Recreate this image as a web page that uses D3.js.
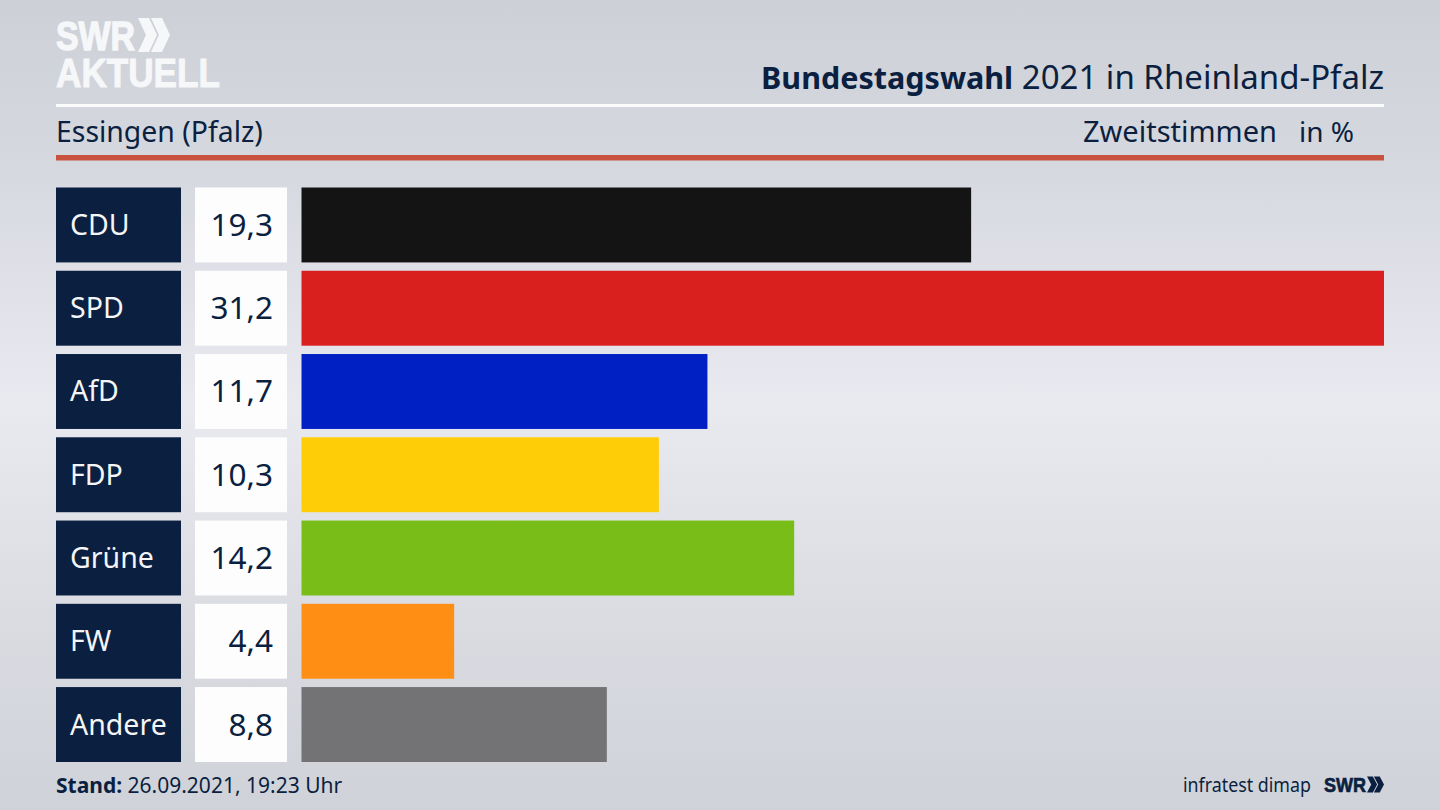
<!DOCTYPE html>
<html>
<head>
<meta charset="utf-8">
<script src="https://cdn.jsdelivr.net/npm/d3@7"></script>
<style>
  html, body { margin: 0; padding: 0; background: #dcdee4; overflow: hidden; }
  text { font-family: "Noto Sans", sans-serif; fill: #0b1f40; }
</style>
</head>
<body>
<svg id="chart" width="1440" height="810"></svg>
<script>
'use strict';
var parties = ['CDU', 'SPD', 'AfD', 'FDP', 'Grüne', 'FW', 'Andere'];
var shares = [19.3, 31.2, 11.7, 10.3, 14.2, 4.4, 8.8];
var barColors = ['#141414', '#d9201e', '#0020c4', '#ffcd08', '#79bd19', '#ff8f14', '#737375'];

var navy = '#0b1f40';
var svg = d3.select('#chart');
var comma = function(v) { return d3.format('.1f')(v).replace('.', ','); };

var x = d3.scaleLinear().domain([0, 31.2]).range([301.5, 1384]);
var y = d3.scaleBand().domain(parties).range([187.5, 762]).paddingInner(0.1);

/*  --  BACKGROUND  --  */
var grad = svg.append('defs').append('linearGradient')
  .attr('id', 'bg').attr('x1', 0).attr('x2', 0).attr('y1', 0).attr('y2', 1);
[[0, '#cdd0d7'], [0.2, '#d6d8df'], [0.5, '#e9eaf0'], [0.8, '#d8dae0'], [1, '#cfd2d8']].forEach(function(s) {
  grad.append('stop').attr('offset', s[0]).attr('stop-color', s[1]);
});
svg.append('rect').attr('width', 1440).attr('height', 810).attr('fill', 'url(#bg)');

/*  --  LOGO  --  */
function chevrons(g, px, py, w, h, fill) {
  [0, 0.406].forEach(function(off) {
    var left = px + off * w;
    var cw = w * 0.594;
    g.append('polygon')
      .attr('points', [
        [left, py], [left + cw * 0.58, py], [left + cw, py + h / 2],
        [left + cw * 0.58, py + h], [left, py + h], [left + cw * 0.42, py + h / 2]
      ].join(' '))
      .attr('fill', fill);
  });
}

function logoText(g, tx, ty, size, len, fill, heavy, label) {
  g.append('text').attr('x', tx).attr('y', ty)
    .style('font-family', '"Liberation Sans"').style('font-weight', 700).style('font-size', size + 'px')
    .style('fill', fill).style('stroke', fill).style('stroke-width', heavy)
    .attr('textLength', len).attr('lengthAdjust', 'spacingAndGlyphs').text(label);
}

var logo = svg.append('g');
logoText(logo, 56, 50, 41, 79, '#f6f7f9', 1.4, 'SWR');
chevrons(logo, 138, 18, 32, 34, '#f6f7f9');
logoText(logo, 56, 87, 41, 164, '#f6f7f9', 1, 'AKTUELL');

/*  --  HEADER  --  */
var title = svg.append('text').attr('x', 1384).attr('y', 89).attr('text-anchor', 'end');
title.append('tspan').style('font-weight', 700).style('font-size', '30.5px').text('Bundestagswahl');
title.append('tspan').style('font-size', '33px').text(' 2021 in Rheinland-Pfalz');

svg.append('rect').attr('x', 56).attr('y', 104).attr('width', 1328).attr('height', 3).attr('fill', '#fbfbfc');

svg.append('text').attr('x', 56).attr('y', 142).style('font-size', '28.4px').text('Essingen (Pfalz)');
svg.append('text').attr('x', 1277).attr('y', 142).attr('text-anchor', 'end').style('font-size', '29px').text('Zweitstimmen');
svg.append('text').attr('x', 1354).attr('y', 142).attr('text-anchor', 'end').style('font-size', '28px').text('in %');

svg.append('rect').attr('x', 56).attr('y', 155).attr('width', 1328).attr('height', 5.5).attr('fill', '#c9523f');

/*  --  ROWS  --  */
var rows = svg.selectAll('g.row').data(parties).enter().append('g')
  .attr('class', 'row')
  .attr('transform', function(d) { return 'translate(0,' + y(d) + ')'; });

rows.append('rect').attr('x', 56).attr('width', 125).attr('height', y.bandwidth()).attr('fill', navy);
rows.append('text').attr('x', 70).attr('y', y.bandwidth() / 2 + 10)
  .style('font-size', '28.5px').style('fill', '#f4f5f7').text(function(d) { return d; });

rows.append('rect').attr('x', 195).attr('width', 92).attr('height', y.bandwidth()).attr('fill', '#fdfdfe');
rows.append('text').attr('x', 273).attr('y', y.bandwidth() / 2 + 11)
  .attr('text-anchor', 'end').style('font-size', '31.5px')
  .text(function(d, i) { return comma(shares[i]); });

rows.append('rect').attr('x', x(0)).attr('height', y.bandwidth())
  .attr('width', function(d, i) { return x(shares[i]) - x(0); })
  .attr('fill', function(d, i) { return barColors[i]; });

/*  --  FOOTER  --  */
var stand = svg.append('text').attr('x', 56).attr('y', 793);
stand.append('tspan').style('font-weight', 700).style('font-size', '21px').text('Stand:');
stand.append('tspan').style('font-size', '21px').text(' 26.09.2021, 19:23 Uhr');

svg.append('text').attr('x', 1183).attr('y', 792)
  .style('font-size', '20px').attr('textLength', 128).attr('lengthAdjust', 'spacingAndGlyphs')
  .text('infratest dimap');
logoText(svg.append('g'), 1324, 792, 21, 42, navy, 0.7, 'SWR');
chevrons(svg.append('g'), 1367, 776.5, 17, 16, navy);
</script>
</body>
</html>
